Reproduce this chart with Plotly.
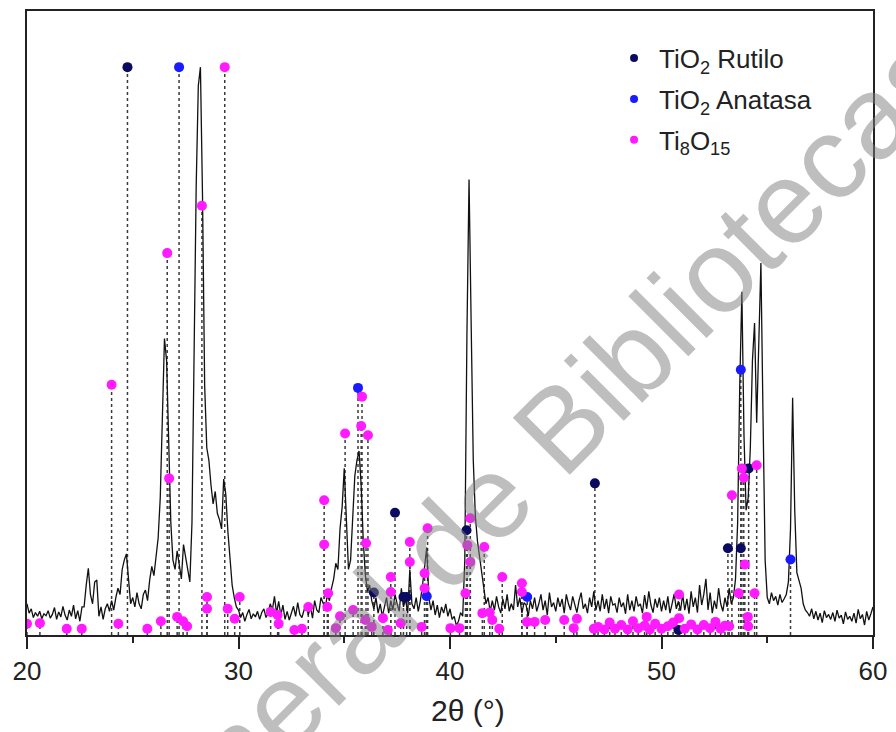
import numpy as np
import plotly.graph_objects as go

# ---------------- data ----------------
two_theta = np.round(np.arange(20.0, 60.05, 0.1), 2)

intensity_rows = [
    [5.0, 3.5, 4.2, 2.8, 3.6, 3.0, 3.8, 2.6, 3.4, 3.1],        # 20
    [3.9, 2.7, 3.3, 4.4, 2.5, 3.7, 2.9, 4.6, 3.2, 2.4],        # 21
    [4.0, 3.0, 4.8, 2.6, 3.9, 2.2, 4.5, 4.5, 8.0, 10.7],       # 22
    [6.5, 5.0, 8.5, 8.8, 3.0, 4.5, 2.5, 4.2, 5.0, 3.8],        # 23
    [5.5, 4.0, 6.0, 7.5, 6.5, 10.5, 12.0, 13.0, 9.0, 5.0],     # 24
    [6.0, 4.5, 6.8, 5.0, 4.2, 6.5, 7.2, 5.5, 8.8, 11.0],       # 25
    [9.5, 12.5, 15.5, 22.0, 33.0, 47.5, 44.0, 30.0, 18.0, 12.0],  # 26
    [10.5, 13.5, 11.0, 9.0, 14.5, 12.5, 10.0, 8.5, 18.0, 45.0],   # 27
    [72.0, 88.0, 91.0, 70.0, 40.0, 30.0, 28.0, 24.0, 21.0, 23.0],  # 28
    [19.5, 18.5, 17.0, 25.0, 22.5, 16.5, 11.5, 8.0, 6.0, 4.5],    # 29
    [4.0, 2.8, 3.6, 2.2, 3.3, 4.1, 2.6, 3.4, 2.9, 3.8],        # 30
    [2.5, 3.6, 4.2, 2.8, 3.5, 5.0, 4.0, 6.2, 3.5, 5.4],        # 31
    [3.2, 4.8, 2.5, 3.8, 2.4, 3.5, 4.6, 3.0, 5.2, 3.3],        # 32
    [2.8, 4.0, 5.0, 3.2, 4.5, 2.7, 5.5, 4.0, 3.6, 6.0],        # 33
    [5.0, 4.2, 6.5, 5.5, 7.5, 9.0, 11.5, 10.5, 17.0, 20.5],    # 34
    [26.7, 18.0, 10.5, 12.0, 20.0, 25.5, 28.0, 29.5, 24.0, 15.0],  # 35
    [9.5, 7.0, 8.0, 5.5, 4.2, 6.0, 3.5, 5.0, 3.0, 4.5],        # 36
    [6.0, 3.5, 5.5, 4.0, 6.5, 5.0, 3.8, 7.5, 4.5, 5.8],        # 37
    [3.5, 10.5, 5.0, 4.2, 6.0, 3.8, 5.5, 8.0, 11.0, 14.0],     # 38
    [6.0, 4.0, 5.5, 3.2, 4.8, 2.8, 4.5, 3.5, 5.0, 3.0],        # 39
    [4.2, 2.5, 3.0, 1.5, 2.2, 3.6, 3.0, 12.0, 48.0, 73.0],     # 40
    [50.0, 28.0, 19.0, 15.0, 12.5, 10.0, 7.5, 5.0, 6.0, 3.8],  # 41
    [5.5, 4.0, 6.2, 4.5, 3.5, 5.8, 4.2, 6.5, 3.8, 5.0],        # 42
    [4.0, 8.0, 4.5, 6.0, 3.5, 5.2, 4.8, 3.0, 5.5, 4.2],        # 43
    [6.0, 3.8, 5.0, 6.5, 4.0, 5.5, 3.2, 6.8, 4.5, 5.2],        # 44
    [3.8, 6.0, 4.5, 5.8, 3.5, 6.5, 5.0, 4.0, 6.2, 4.8],        # 45
    [3.6, 5.5, 6.8, 4.2, 5.0, 3.5, 6.0, 4.5, 7.0, 4.0],        # 46
    [5.5, 3.8, 6.5, 4.2, 5.8, 3.5, 6.2, 4.8, 5.0, 3.6],        # 47
    [6.0, 4.5, 5.2, 3.4, 6.5, 4.0, 5.5, 3.8, 6.2, 4.6],        # 48
    [5.0, 3.5, 6.4, 4.2, 7.0, 4.8, 3.6, 5.8, 4.4, 6.0],        # 49
    [3.8, 5.5, 4.0, 6.2, 3.5, 5.0, 6.6, 4.2, 5.4, 3.9],        # 50
    [6.5, 4.0, 5.8, 3.4, 7.0, 4.5, 6.0, 3.6, 8.0, 4.8],        # 51
    [6.5, 9.0, 4.0, 6.8, 3.5, 5.5, 4.2, 7.5, 5.0, 3.8],        # 52
    [6.0, 4.5, 7.5, 5.0, 6.0, 9.0, 18.0, 40.0, 55.0, 32.0],    # 53
    [20.0, 22.0, 30.0, 44.0, 50.0, 34.0, 45.0, 59.6, 35.0, 12.0],  # 54
    [6.0, 5.0, 6.8, 5.5, 6.2, 4.8, 6.5, 5.2, 5.8, 6.5],        # 55
    [8.5, 17.0, 38.0, 20.0, 10.0, 8.5, 7.5, 5.0, 4.0, 3.6],    # 56
    [3.0, 4.2, 2.6, 3.8, 2.4, 3.5, 2.0, 3.9, 2.8, 3.3],        # 57
    [2.5, 3.6, 2.2, 4.0, 2.7, 3.2, 1.8, 3.7, 2.5, 3.0],        # 58
    [2.2, 3.5, 1.9, 4.1, 2.6, 3.3, 1.6, 3.8, 2.4, 3.4],        # 59
    [4.5],                                                     # 60
]
intensity = [v for row in intensity_rows for v in row]

rutilo_x = [24.75, 36.4, 37.4, 37.8, 37.95, 40.78, 46.85, 50.8, 53.14, 53.75, 54.12]
rutilo_y = [91.0, 6.8, 19.6, 6.1, 6.1, 16.8, 24.3, 0.8, 13.9, 13.9, 26.7]

anatasa_x = [27.19, 35.65, 38.9, 43.65, 53.75, 56.1]
anatasa_y = [91.0, 39.6, 6.2, 6.1, 42.5, 12.1]

ti8o15_x = [29.35, 28.27, 26.63, 24.0, 26.72,
            20.0, 20.61, 21.88, 22.59, 24.32, 25.69, 26.33, 27.1, 27.38, 27.57,
            28.51, 28.51, 29.49, 29.82, 30.06, 31.52, 31.85, 31.9, 32.64, 33.0,
            33.3, 34.05, 34.05, 34.24, 34.2, 34.8, 34.6, 35.04, 35.42, 35.84,
            35.8, 36.12, 36.03, 36.0, 36.3, 36.83, 37.06, 37.2, 37.2, 37.67,
            38.1, 38.1, 38.66, 38.8, 38.8, 38.94, 40.02, 40.45, 40.73, 40.82,
            40.96, 40.96, 41.62, 41.53, 41.88, 42.0, 42.33, 42.47, 43.4, 43.4,
            43.64, 44.0, 44.5, 45.4, 45.85, 46.0, 46.8,
            47.0, 47.3, 47.55, 47.8, 48.1, 48.4, 48.65, 48.9, 49.2, 49.3,
            49.45, 49.7, 50.0, 50.3, 50.55, 50.83, 50.83, 51.1, 51.4, 51.7,
            52.0, 52.3, 52.55, 52.8, 53.0, 53.2, 53.33, 53.65, 53.8, 53.89,
            53.94, 54.08, 54.1, 54.4, 54.5]
ti8o15_y = [91.0, 68.8, 61.2, 40.1, 25.1,
            1.8, 1.9, 1.0, 1.0, 1.8, 1.0, 2.2, 2.9, 2.2, 1.4,
            6.1, 4.2, 4.2, 2.6, 6.1, 3.7, 3.2, 1.8, 0.8, 1.0,
            4.5, 21.6, 14.5, 6.7, 4.5, 3.0, 1.1, 32.3, 4.0, 38.2,
            33.5, 32.0, 14.7, 2.4, 1.3, 2.7, 0.8, 9.3, 6.9, 1.9,
            14.9, 11.7, 1.3, 9.9, 7.5, 17.1, 1.1, 1.1, 6.7, 14.4,
            18.7, 11.7, 14.1, 3.5, 3.6, 2.4, 1.0, 9.3, 8.3, 6.9,
            2.1, 2.1, 2.4, 2.4, 1.1, 2.6, 1.0,
            1.3, 0.9, 2.0, 1.0, 1.6, 0.9, 2.2, 1.1, 1.5, 2.9,
            0.9, 1.8, 1.0, 1.4, 2.0, 6.5, 2.7, 1.0, 1.7, 0.9,
            1.6, 1.1, 2.1, 1.0, 1.5, 1.4, 22.4, 6.7, 26.7, 25.2,
            11.3, 2.9, 1.4, 6.7, 27.2]

legend_names = ["TiO<sub>2</sub> Rutilo", "TiO<sub>2</sub> Anatasa", "Ti<sub>8</sub>O<sub>15</sub>"]
phase_colors = ["#0a0a60", "#1a1aff", "#ff1aff"]

x_title = "2θ (°)"
watermark_text = "Dirección General de Bibliotecas"
# --------------------------------------

phases = [(rutilo_x, rutilo_y), (anatasa_x, anatasa_y), (ti8o15_x, ti8o15_y)]

fig = go.Figure()

# dotted drop lines
for (px_, py_) in phases:
    sx, sy = [], []
    for xv, yv in zip(px_, py_):
        sx += [xv, xv, None]
        sy += [0, yv, None]
    fig.add_trace(go.Scatter(x=sx, y=sy, mode="lines",
                             line=dict(color="#3a3a3a", width=1.5, dash="dot"),
                             showlegend=False, hoverinfo="skip"))

# diffractogram
fig.add_trace(go.Scatter(x=two_theta, y=intensity, mode="lines",
                         line=dict(color="#111111", width=1.3),
                         showlegend=False))

# markers
for (px_, py_), col in zip(phases, phase_colors):
    fig.add_trace(go.Scatter(x=px_, y=py_, mode="markers",
                             marker=dict(color=col, size=10),
                             showlegend=False))

# legend-only entries (smaller symbols)
for i, (name, col) in enumerate(zip(legend_names, phase_colors)):
    fig.add_trace(go.Scatter(x=[None], y=[None], mode="markers", name=name,
                             legendgroup=f"g{i}",
                             marker=dict(color=col, size=8)))

fig.add_annotation(text=watermark_text, xref="paper", yref="paper",
                   x=0.364, y=-0.0288, xanchor="center", yanchor="middle",
                   textangle=-45, showarrow=False,
                   font=dict(family="Liberation Sans, Arial", size=117,
                             color="rgba(125,125,125,0.5)"))

fig.add_annotation(text=x_title, xref="paper", yref="paper",
                   x=0.5217, y=-0.1214, xanchor="center", yanchor="middle",
                   showarrow=False,
                   font=dict(family="Liberation Sans, Arial", size=30, color="#222222"))

fig.update_layout(
    width=896, height=732,
    margin=dict(l=27, r=18, t=9, b=97),
    paper_bgcolor="white", plot_bgcolor="white",
    font=dict(family="Liberation Sans, Arial", color="#222222"),
    legend=dict(x=0.688, y=0.962, xanchor="left", yanchor="top",
                bgcolor="rgba(0,0,0,0)", font=dict(size=26, color="#222222"),
                itemwidth=40, tracegroupgap=4),
    xaxis=dict(range=[20, 60], showgrid=False, zeroline=False,
               showline=True, mirror=True, linecolor="#222222", linewidth=2,
               ticks="outside", ticklen=12, tickwidth=2, tickcolor="#222222",
               tickvals=[20, 30, 40, 50, 60],
               tickfont=dict(size=26, color="#222222"),
               minor=dict(tickvals=[25, 35, 45, 55], ticks="outside",
                          ticklen=6, tickwidth=2, tickcolor="#222222")),
    yaxis=dict(range=[0, 100], showgrid=False, zeroline=False,
               showline=True, mirror=True, linecolor="#222222", linewidth=2,
               showticklabels=False, ticks=""),
)

fig.write_html("out.html")
